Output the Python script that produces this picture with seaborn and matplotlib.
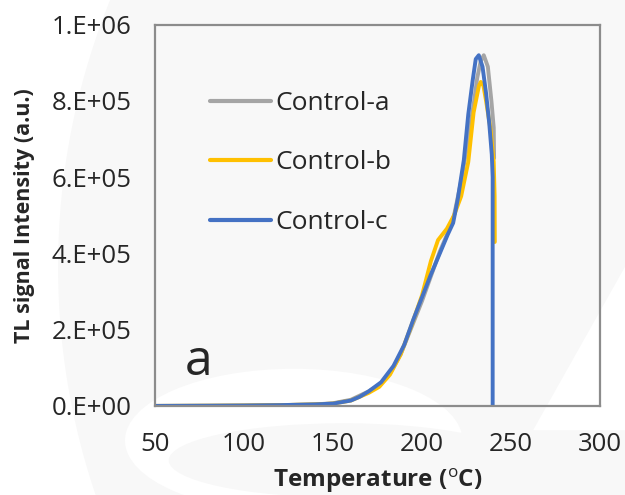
import numpy as np
import pandas as pd
import seaborn as sns
import matplotlib.pyplot as plt
from matplotlib.patches import Ellipse, Polygon

# TL glow curves
temp_a = [50, 80, 100, 120, 140, 150, 160, 170, 176, 182, 188, 194, 200, 205, 210, 215,
          218, 222, 226, 229, 231, 233, 234.7, 237, 239, 240.3, 240.5]
tl_a = [0, 500, 1000, 2000, 4000, 7000, 16000, 38000, 55000, 85000, 135000, 205000,
        275000, 340000, 405000, 460000, 500000, 590000, 700000, 790000, 860000, 905000,
        920000, 890000, 800000, 730000, 650000]

temp_b = [50, 80, 100, 120, 140, 150, 160, 170, 176, 182, 188, 194, 200, 205, 209, 214,
          218, 222, 226, 229, 232, 233, 234.5, 236, 238.5, 240.3, 240.8, 240.9]
tl_b = [0, 500, 1000, 2000, 4000, 6000, 14000, 34000, 50000, 82000, 135000, 210000,
        290000, 380000, 435000, 465000, 500000, 550000, 640000, 770000, 840000, 850000,
        840000, 800000, 725000, 640000, 550000, 430000]

temp_c = [50, 80, 100, 120, 140, 150, 160, 165, 170, 177, 184, 190, 195, 200, 205, 210,
          214.5, 217.5, 220, 223.5, 226, 228.5, 230.2, 231.9, 234, 236, 237.8, 239.2,
          239.7, 239.7]
tl_c = [0, 500, 1000, 2000, 4000, 6000, 14000, 24000, 38000, 62000, 105000, 160000,
        225000, 285000, 345000, 400000, 450000, 480000, 540000, 645000, 765000, 855000,
        910000, 920000, 890000, 820000, 740000, 660000, 600000, 0]

labels = ['Control-a', 'Control-b', 'Control-c']
colors = ['#A5A5A5', '#FFC000', '#4472C4']
xticks = [50, 100, 150, 200, 250, 300]
yticks = [0, 200000, 400000, 600000, 800000, 1000000]
ytick_labels = ['0.E+00', '2.E+05', '4.E+05', '6.E+05', '8.E+05', '1.E+06']

frames = []
for t, v, name in zip([temp_a, temp_b, temp_c], [tl_a, tl_b, tl_c], labels):
    frames.append(pd.DataFrame({'temp': t, 'tl': v, 'sample': name}))
df = pd.concat(frames, ignore_index=True)

sns.set_style('white')
plt.rcParams['font.family'] = ['Open Sans', 'DejaVu Sans']
plt.rcParams['mathtext.fontset'] = 'custom'
plt.rcParams['mathtext.rm'] = 'Open Sans'
plt.rcParams['mathtext.bf'] = 'Open Sans:bold'

fig = plt.figure(figsize=(6.25, 4.95), dpi=100)
fig.patch.set_facecolor('white')

# faint watermark behind the chart
bg = '#f8f8f8'
fig.patches.append(Ellipse((1.2304, 0.4606), 2.275, 2.873, transform=fig.transFigure,
                           facecolor=bg, edgecolor='none', zorder=-10))
fig.patches.append(Ellipse((0.47, 0.11), 0.54, 0.29, transform=fig.transFigure,
                           facecolor='white', edgecolor='none', zorder=-9))
fig.patches.append(Ellipse((0.55, 0.07), 0.56, 0.15, transform=fig.transFigure,
                           facecolor=bg, edgecolor='none', zorder=-8))
fig.patches.append(Polygon([(0.853, 0.131), (1.0, 0.461), (1.0, 0.131)],
                           transform=fig.transFigure, facecolor='white',
                           edgecolor='none', zorder=-7))

ax = fig.add_axes([0.248, 0.18, 0.712, 0.77])
ax.set_facecolor('none')

sns.lineplot(data=df, x='temp', y='tl', hue='sample', palette=colors, sort=False,
             estimator=None, linewidth=2.8, ax=ax)

ax.set_xlim(50, 300)
ax.set_ylim(0, 1000000)
ax.set_xticks(xticks)
ax.set_xticklabels([str(x) for x in xticks])
ax.set_yticks(yticks)
ax.set_yticklabels(ytick_labels)
ax.tick_params(direction='inout', length=12, width=1.3, color='#8c8c8c',
               labelsize=18.5)
ax.tick_params(axis='x', pad=13)
ax.tick_params(axis='y', pad=11)

for s in ax.spines.values():
    s.set_color('#8c8c8c')
    s.set_linewidth(1.6)

ax.set_xlabel(r'Temperature ($^{\mathrm{o}}$C)', fontsize=17.5, fontweight='bold', labelpad=6)
ax.set_ylabel('TL signal Intensity (a.u.)', fontsize=15.5, fontweight='bold', labelpad=12)

ax.legend(loc='upper left', bbox_to_anchor=(0.071, 0.888), frameon=False, fontsize=19,
          handlelength=2.3, handletextpad=0.15, labelspacing=1.3)
for line in ax.get_legend().get_lines():
    line.set_linewidth(3)

ax.text(0.067, 0.081, 'a', transform=ax.transAxes, fontsize=36, va='baseline')

fig.savefig('out.png', dpi=100, facecolor=fig.get_facecolor())
